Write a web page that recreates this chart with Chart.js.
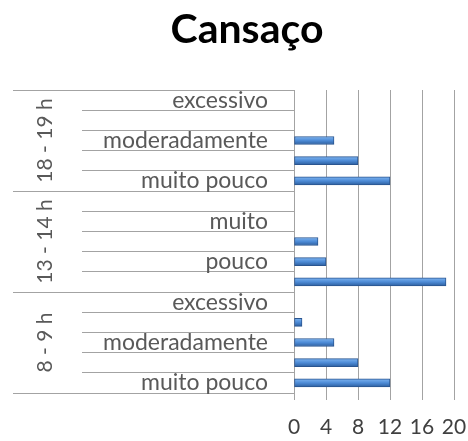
<!DOCTYPE html>
<html>
<head>
<meta charset="utf-8">
<script src="https://cdn.jsdelivr.net/npm/chart.js@4/dist/chart.umd.min.js"></script>
<style>
  html, body { margin: 0; padding: 0; background: #fff; }
  #wrap { position: relative; width: 468px; height: 441px; }
  #title {
    position: absolute; top: 7px; left: 147px; width: 200px;
    margin: 0; text-align: center;
    font: bold 41px/1 Lato, sans-serif; color: #000;
  }
</style>
</head>
<body>
<div id="wrap">
  <h1 id="title">Cansaço</h1>
  <canvas id="chart" width="468" height="441"></canvas>
</div>
<script>
// top to bottom, as the picture reads
const groups = ['18 - 19 h', '13 - 14 h', '8 - 9 h'];
const levels = ['excessivo', 'muito', 'moderadamente', 'pouco', 'muito pouco'];
const values1819 = [0, 0, 5, 8, 12];
const values1314 = [0, 0, 3, 4, 19];
const values89 = [0, 1, 5, 8, 12];
const xTicks = [0, 4, 8, 12, 16, 20];

(function () {
  const labels = [].concat(levels, levels, levels);
  const values = [].concat(values1819, values1314, values89);

  const gridColor = '#a3a3a3';
  const textColor = '#595959';

  // light on top, darker underneath, like the old office bars
  function barFill(ctx) {
    const chart = ctx.chart;
    const yScale = chart.scales && chart.scales.y;
    if (!chart.chartArea || !yScale || ctx.dataIndex == null) return '#4f81bd';
    const yc = yScale.getPixelForValue(ctx.dataIndex);
    const g = chart.ctx.createLinearGradient(0, yc - 4, 0, yc + 4);
    g.addColorStop(0, '#7db3ef');
    g.addColorStop(0.5, '#4d8bd6');
    g.addColorStop(1, '#2d5f9f');
    return g;
  }

  new Chart(document.getElementById('chart'), {
    type: 'bar',
    data: {
      labels,
      datasets: [{
        data: values,
        backgroundColor: barFill,
        borderColor: '#2a5590',
        borderWidth: 1,
        borderSkipped: false,
        barThickness: 8
      }]
    },
    options: {
      indexAxis: 'y',
      responsive: false,
      animation: false,
      layout: { padding: { top: 90, left: 13, right: 14, bottom: 0 } },
      plugins: {
        legend: { display: false },
        tooltip: { enabled: false },
        title: { display: false }
      },
      scales: {
        x: {
          min: 0,
          max: 20,
          afterBuildTicks: (s) => { s.ticks = xTicks.map((v) => ({ value: v })); },
          ticks: { color: '#404040', font: { family: 'Lato', size: 21, lineHeight: 1 }, padding: 17 },
          grid: { color: gridColor, tickLength: 7 },
          border: { display: false },
          afterFit: (s) => {
            s.height = 48;
            s.paddingLeft = 6;
            s.paddingRight = 11;
          }
        },
        y: {
          position: 'left',
          weight: 0,
          grid: { offset: true, drawOnChartArea: false, tickLength: 212, color: gridColor },
          border: { display: true, color: gridColor },
          ticks: {
            autoSkip: false,
            padding: -186,
            color: textColor,
            font: { family: 'Lato', size: 23 },
            callback: (v, i) => (i % 2 === 0 ? labels[i] : '')
          },
          afterFit: (s) => { s.width = 212; s.paddingTop = 0; s.paddingBottom = 0; }
        },
        y2: {
          type: 'category',
          labels: groups,
          position: 'left',
          weight: 5,
          offset: true,
          grid: { offset: true, drawOnChartArea: false, tickLength: 69, color: gridColor },
          border: { display: false },
          ticks: {
            minRotation: 90,
            maxRotation: 90,
            crossAlign: 'center',
            padding: -74,
            color: textColor,
            font: { family: 'Lato', size: 21 }
          },
          afterFit: (s) => { s.width = 69; s.paddingTop = 0; s.paddingBottom = 0; }
        }
      }
    }
  });
})();
</script>
</body>
</html>
